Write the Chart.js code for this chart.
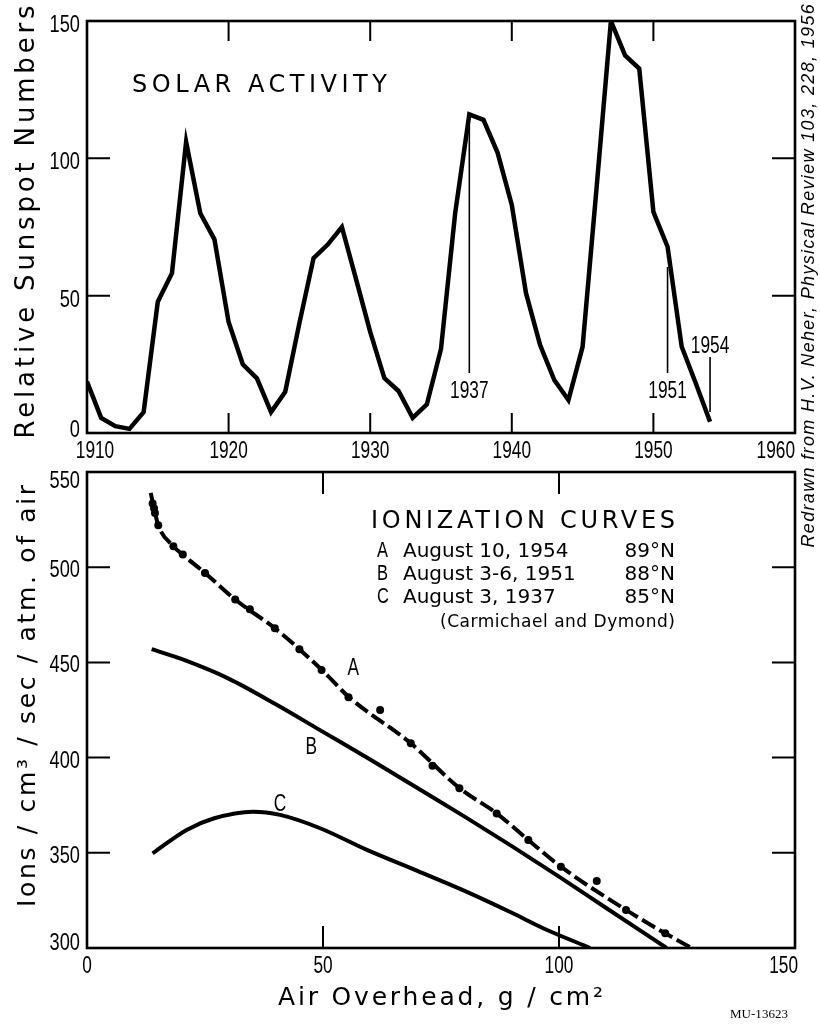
<!DOCTYPE html>
<html><head><meta charset="utf-8">
<script src="https://cdn.jsdelivr.net/npm/chart.js@4.4.1/dist/chart.umd.min.js"></script>
<style>
html,body{margin:0;padding:0;background:#fff;}
#wrap{position:relative;width:820px;height:1032px;overflow:hidden;background:#fff;}
#wrap canvas{position:absolute;left:0;top:0;}
</style></head><body>
<div id="wrap"><canvas id="c1" width="820" height="1032"></canvas><canvas id="c2" width="820" height="1032"></canvas></div>
<script>
// ---------- DATA ----------
const sunYears = [1910,1911,1912,1913,1914,1915,1916,1917,1918,1919,1920,1921,1922,1923,1924,1925,1926,1927,1928,1929,1930,1931,1932,1933,1934,1935,1936,1937,1938,1939,1940,1941,1942,1943,1944,1945,1946,1947,1948,1949,1950,1951,1952,1953,1954];
const sunspotNumbers = [18.7,5.5,2.5,1.5,7.6,47.8,58.2,106,80,70.5,40.4,25,19.9,7.6,15,40,63.7,68.6,75,56,36.8,20,15.3,5.5,10.4,30.6,80,116,114,102,83,51,32,19.3,12,31.4,90,150,137.5,132.7,80.5,67.8,31.4,18,4.1];
const yearTicks = [1910,1920,1930,1940,1950,1960];
const sunspotTicks = [0,50,100,150];
const markedYears = ['1937','1951','1954'];

const depthTicks = [0,50,100,150];
const ionTicks = [300,350,400,450,500,550];
const curveADepth = [13.5,14.2,15.1,18.3,20.3,25,31.4,40,50,55.4,68.6,78.9,86.8,93.5,100.4,114.2,122.5,128.1];
const curveAIons  = [539,531,522,511,506.5,497,483,467.5,445.5,432,407.5,384,370.7,356.7,342.7,320,307.7,300];
const dotsADepth = [13.9,14.2,14.4,15.1,18.3,20.3,25,31.4,34.5,39.8,45,49.7,55.4,62.1,68.6,73.2,78.9,86.8,93.5,100.4,108,114.2,122.5];
const dotsAIons  = [533.5,531,528.5,522,511,506.7,497,483,477.9,467.9,456.9,446,431.7,425,407.5,395.7,383.9,370.7,356.7,342.7,335.2,320,307.7];
const curveBDepth = [13.7,20,30,40,50,60,70,80,90,100,110,122.8];
const curveBIons  = [457,451.8,441.5,428,413.5,399,384,369,353.5,337.5,321,300];
const curveCDepth = [13.9,21.1,26.8,35.2,40.9,49.4,59.3,70,80,90,97,106.6];
const curveCIons  = [349.7,362,368,371.6,369.9,362.9,351.5,340.5,330,318.5,310,300];
const curveNames = ['A','B','C'];
const legendTitle = 'IONIZATION CURVES';
const legendDates = ['August 10, 1954','August 3-6, 1951','August 3, 1937'];
const legendLats = ['89°N','88°N','85°N'];
const legendNote = '(Carmichael and Dymond)';

// ---------- DRAW HELPERS ----------
const SANS = '"DejaVu Sans", "Noto Sans", sans-serif';
const NARROWBASE = '"Liberation Sans", Arial, sans-serif';
const INK = '#000';

function narrowText(ctx, text, x, y, size, align, sx){
  ctx.save();
  ctx.font = size+'px '+NARROWBASE;
  ctx.textAlign = align||'center';
  ctx.textBaseline = 'alphabetic';
  ctx.fillStyle = INK;
  ctx.translate(x, y); ctx.scale(sx||0.72, 1);
  ctx.fillText(text, 0, 0);
  ctx.restore();
}
function spacedText(ctx, text, x, y, width, font, align){
  ctx.save();
  ctx.font = font;
  ctx.letterSpacing = '0px';
  const w0 = ctx.measureText(text).width;
  const n = [...text].length;
  const ls = n>1 ? (width - w0)/(n-1) : 0;
  ctx.letterSpacing = ls.toFixed(2)+'px';
  ctx.textAlign = 'left';
  let sx = x;
  if (align==='center') sx = x - width/2; else if (align==='right') sx = x - width;
  ctx.fillText(text, sx, y);
  ctx.restore();
}
function rotatedText(ctx, text, cx, cy, length, font){
  ctx.save(); ctx.translate(cx, cy); ctx.rotate(-Math.PI/2);
  ctx.textBaseline='middle';
  spacedText(ctx, text, 0, 0, length, font, 'center');
  ctx.restore();
}
function frame(ctx, a){
  ctx.save(); ctx.strokeStyle=INK; ctx.lineWidth=2.6;
  ctx.strokeRect(a.left, a.top, a.right-a.left, a.bottom-a.top);
  ctx.restore();
}
function innerTicks(ctx, chart, xVals, yVals, xLen, yLen){
  const a=chart.chartArea, xs=chart.scales.x, ys=chart.scales.y;
  ctx.save(); ctx.strokeStyle=INK; ctx.lineWidth=2; ctx.beginPath();
  xVals.forEach(v=>{const p=xs.getPixelForValue(v);
    ctx.moveTo(p,a.bottom); ctx.lineTo(p,a.bottom-xLen);
    ctx.moveTo(p,a.top); ctx.lineTo(p,a.top+xLen);});
  yVals.forEach(v=>{const p=ys.getPixelForValue(v);
    ctx.moveTo(a.left,p); ctx.lineTo(a.left+yLen,p);
    ctx.moveTo(a.right,p); ctx.lineTo(a.right-yLen,p);});
  ctx.stroke(); ctx.restore();
}
// tick labels drawn from the library's scales (positions from getPixelForValue)
function tickLabels(ctx, chart, o){
  const a=chart.chartArea, xs=chart.scales.x, ys=chart.scales.y;
  const xt=xs.ticks, yt=ys.ticks;
  xt.forEach((t,i)=>{
    const p=xs.getPixelForValue(t.value);
    let align='center', dx=0;
    if(i===0) dx=o.firstDx;
    if(i===xt.length-1){align='right'; dx=o.lastDx;}
    narrowText(ctx,String(t.value),p+dx,a.bottom+25,24,align,0.72);
  });
  yt.forEach((t,i)=>{
    const p=ys.getPixelForValue(t.value);
    let dy=o.yDy;
    if(i===0) dy=o.yFirstDy;
    if(i===yt.length-1) dy=o.yLastDy;
    narrowText(ctx,String(t.value),a.left-7,p+dy,24,'right',0.76);
  });
}

const topDecor = {
  id:'topDecor',
  afterDraw(chart){
    const ctx=chart.ctx, a=chart.chartArea, xs=chart.scales.x;
    frame(ctx,a);
    innerTicks(ctx, chart, yearTicks.slice(1,-1), sunspotTicks.slice(1,-1), 20, 23);
    tickLabels(ctx, chart, {firstDx:8,lastDx:0,yDy:11,yFirstDy:4,yLastDy:11});
    ctx.save(); ctx.fillStyle=INK;
    spacedText(ctx,'SOLAR ACTIVITY',132,92,255,'24px '+SANS,'left');
    rotatedText(ctx,'Relative Sunspot Numbers',27,222,433,'26px '+SANS);
    rotatedText(ctx,'Redrawn from H.V. Neher, Physical Review 103, 228, 1956',809,276,543,'italic 18px "Liberation Sans", sans-serif');
    const marks=[{t:0,top:125,bot:373,ly:398},{t:1,top:267,bot:373,ly:398},{t:2,top:357,bot:412,ly:353}];
    ctx.strokeStyle=INK; ctx.lineWidth=1.6;
    marks.forEach(m=>{
      const px=xs.getPixelForValue(+markedYears[m.t]);
      ctx.beginPath(); ctx.moveTo(px,m.top); ctx.lineTo(px,m.bot); ctx.stroke();
      narrowText(ctx,markedYears[m.t],px,m.ly,24,'center',0.72);
    });
    ctx.restore();
  }
};

const bottomDecor = {
  id:'bottomDecor',
  afterDraw(chart){
    const ctx=chart.ctx, a=chart.chartArea, xs=chart.scales.x, ys=chart.scales.y;
    frame(ctx,a);
    innerTicks(ctx, chart, depthTicks.slice(1,-1), ionTicks.slice(1,-1), 22, 23);
    tickLabels(ctx, chart, {firstDx:0,lastDx:3,yDy:10,yFirstDy:2,yLastDy:16});
    ctx.save(); ctx.fillStyle=INK;
    rotatedText(ctx,'Ions / cm³ / sec / atm. of air',28,696,422,'25px '+SANS);
    spacedText(ctx,'Air Overhead, g / cm²',278,1005,325,'25px '+SANS,'left');
    spacedText(ctx,legendTitle,371,528,304,'24px '+SANS,'left');
    const rowY=[557,580,603];
    legendDates.forEach((d,i)=>{
      narrowText(ctx,curveNames[i],377,rowY[i],22,'left',0.75);
      ctx.fillStyle=INK;
      ctx.font='20px '+SANS; ctx.textAlign='left'; ctx.fillText(d,403,rowY[i]);
      ctx.textAlign='right'; ctx.fillText(legendLats[i],675,rowY[i]);
    });
    spacedText(ctx,legendNote,440,627,235,'17px '+SANS,'left');
    const lab=[[56.4,447.6],[47.5,406],[40.9,376]];
    lab.forEach((p,i)=>narrowText(ctx,curveNames[i], xs.getPixelForValue(p[0]), ys.getPixelForValue(p[1])+8,23,'center',0.75));
    ctx.textBaseline='alphabetic';
    spacedText(ctx,'MU-13623',730,1018,58,'13px "Liberation Serif", "DejaVu Serif", serif','left');
    ctx.restore();
  }
};

const pts=(xa,ya)=>xa.map((x,i)=>({x, y:ya[i]}));
const baseOpts = {responsive:false, animation:false, events:[], plugins:{legend:{display:false},tooltip:{enabled:false}}};
function axis(min,max,vals,isX){
  return {type:'linear',min,max,
    afterBuildTicks:s=>{s.ticks=vals.map(v=>({value:v}));},
    afterFit: isX ? (s=>{s.height=40;}) : (s=>{s.width=87;}),
    grid:{display:false},border:{display:false},
    ticks:{display:false}};
}

new Chart(document.getElementById('c1'),{
  type:'scatter',
  data:{datasets:[{data:pts(sunYears,sunspotNumbers), showLine:true, borderColor:INK, borderWidth:4.5, pointRadius:0, tension:0, borderJoinStyle:'miter', fill:false}]},
  options:Object.assign({},baseOpts,{
    layout:{padding:{left:0,top:21,right:25,bottom:559}},
    scales:{x:axis(1910,1960,yearTicks,true), y:axis(0,150,sunspotTicks,false)}
  }),
  plugins:[topDecor]
});

new Chart(document.getElementById('c2'),{
  type:'scatter',
  data:{datasets:[
    {data:pts(dotsADepth,dotsAIons), showLine:false, pointRadius:4, pointBackgroundColor:INK, pointBorderWidth:0, borderColor:INK},
    {data:pts(curveADepth,curveAIons), showLine:true, borderColor:INK, borderWidth:4, borderDash:[15,5], pointRadius:0, cubicInterpolationMode:'monotone', fill:false},
    {data:pts(curveBDepth,curveBIons), showLine:true, borderColor:INK, borderWidth:4, pointRadius:0, cubicInterpolationMode:'monotone', fill:false},
    {data:pts(curveCDepth,curveCIons), showLine:true, borderColor:INK, borderWidth:4, pointRadius:0, cubicInterpolationMode:'monotone', fill:false}
  ]},
  options:Object.assign({},baseOpts,{
    layout:{padding:{left:0,top:472,right:25,bottom:44}},
    scales:{x:axis(0,150,depthTicks,true), y:axis(300,550,ionTicks,false)}
  }),
  plugins:[bottomDecor]
});
</script>
</body></html>
